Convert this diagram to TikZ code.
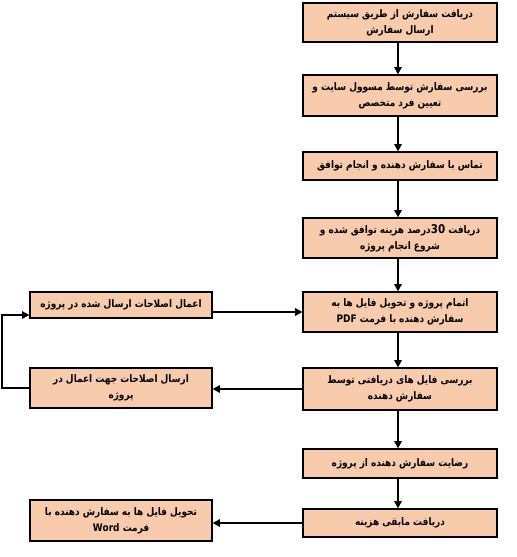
\documentclass[tikz,border=0pt]{standalone}
\usepackage{fontspec}
\newfontfamily\arabicfont[Script=Arabic,FakeStretch=0.86]{DejaVu Sans}
\TeXXeTstate=1
\usetikzlibrary{arrows.meta}
\definecolor{peach}{RGB}{248,203,173}
\begin{document}
\begin{tikzpicture}[x=0.75pt,y=-0.75pt,
  box/.style={draw=black, line width=0.9pt, fill=peach, align=center, inner sep=1pt,
    font=\arabicfont\bfseries\fontsize{7.8}{12}\selectfont},
  mainbox/.style={box, minimum width=145.5pt},
  sidebox/.style={box, minimum width=136.5pt},
  arr/.style={line width=1.5pt, -{Triangle[length=5.5pt,width=5.5pt]}}]
\useasboundingbox (0,0) rectangle (517,557);
\node[mainbox, minimum height=29.25pt] (b1) at (400,22.5) {\beginR دریافت سفارش  از طریق سیستم\endR\\ \beginR ارسال سفارش\endR};
\node[mainbox, minimum height=30.75pt] (b2) at (400,95.5) {\beginR بررسی سفارش توسط مسوول سایت و\endR\\ \beginR تعیین فرد متخصص\endR};
\node[mainbox, minimum height=21pt] (b3) at (400,166) {\beginR تماس با سفارش دهنده و انجام توافق\endR};
\node[mainbox, minimum height=30pt] (b4) at (400,238) {\beginR دریافت \beginL{\fontsize{9}{11}\selectfont 30}\endL درصد  هزینه توافق شده و\endR\\ \beginR شروع انجام پروژه\endR};
\node[mainbox, minimum height=30pt] (b5) at (400,312) {\beginR اتمام پروژه و تحویل فایل ها به\endR\\ \beginR سفارش دهنده با فرمت \beginL PDF\endL\endR};
\node[mainbox, minimum height=31.5pt] (b6) at (400,389) {\beginR بررسی فایل های دریافتی توسط\endR\\ \beginR سفارش دهنده\endR};
\node[mainbox, minimum height=21.75pt] (b7) at (400,463.5) {\beginR رضایت سفارش دهنده  از پروژه\endR};
\node[mainbox, minimum height=21pt] (b8) at (400,523) {\beginR دریافت مابقی  هزینه\endR};
\node[sidebox, minimum height=19.5pt] (l1) at (121,305) {\beginR اعمال اصلاحات  ارسال شده در پروژه\endR};
\node[sidebox, minimum height=30pt] (l2) at (121,388) {\beginR ارسال اصلاحات جهت اعمال در\endR\\ \beginR پروژه\endR};
\node[sidebox, minimum height=30.75pt] (l3) at (121,520.5) {\beginR تحویل فایل ها به سفارش دهنده با\endR\\ \beginR فرمت \beginL Word\endL\endR};
\foreach \a/\b in {b1/b2,b2/b3,b3/b4,b4/b5,b5/b6,b6/b7,b7/b8}
  \draw[arr] ([xshift=-1.5pt]\a.south) -- ([xshift=-1.5pt]\b.north);
\draw[arr] (b5.west -| l1.east) -- (b5.west);
\draw[arr] (b6.west) -- (b6.west -| l2.east);
\draw[arr] (b8.west) -- (b8.west -| l3.east);
\coordinate (lp1) at (2,388);
\coordinate (lp2) at (2,315);
\draw[arr] (l2.west) -- (lp1) -- (lp2) -- (lp2 -| l1.west);
\end{tikzpicture}
\end{document}
